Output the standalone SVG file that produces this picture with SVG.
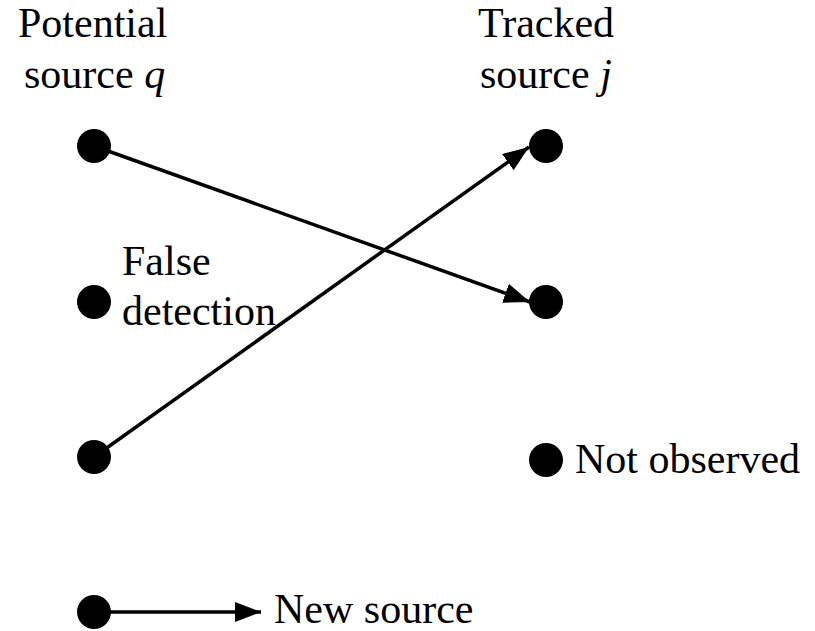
<svg xmlns="http://www.w3.org/2000/svg" width="815" height="631" viewBox="0 0 815 631">
<style>
text{font-family:"Liberation Serif","Times New Roman",serif;font-size:42px;fill:#000}
.dot{fill:#000}
.conn{stroke:#000;stroke-width:3.5;fill:none}
</style>
<defs>
<marker id="ah" markerUnits="userSpaceOnUse" markerWidth="30" markerHeight="24" refX="26" refY="10" orient="auto">
<path d="M0,0 L26,10 L0,20 Z" fill="#000"/>
</marker>
</defs>
<rect width="815" height="631" fill="#fff"/>
<g id="labels">
<text x="18" y="37">Potential</text>
<text x="24" y="88">source <tspan font-style="italic">q</tspan></text>
<text x="478" y="37">Tracked</text>
<text x="480" y="88">source <tspan font-style="italic">j</tspan></text>
</g>
<g id="connectors">
<line class="conn" x1="94" y1="146" x2="530" y2="302" marker-end="url(#ah)"/>
<line class="conn" x1="94" y1="457" x2="529" y2="147" marker-end="url(#ah)"/>
<line class="conn" x1="94" y1="612" x2="261" y2="612" marker-end="url(#ah)"/>
</g>
<g id="q1"><circle class="dot" cx="94" cy="146" r="17"/></g>
<g id="q2"><circle class="dot" cx="94" cy="302" r="17"/><text x="122" y="275">False</text><text x="122" y="325">detection</text></g>
<g id="q3"><circle class="dot" cx="94" cy="457" r="17"/></g>
<g id="q4"><circle class="dot" cx="94" cy="612" r="17"/><text x="274" y="623">New source</text></g>
<g id="j1"><circle class="dot" cx="546" cy="146" r="17"/></g>
<g id="j2"><circle class="dot" cx="546" cy="302" r="17"/></g>
<g id="j3"><circle class="dot" cx="546" cy="460" r="17"/><text x="575" y="473">Not observed</text></g>
</svg>
